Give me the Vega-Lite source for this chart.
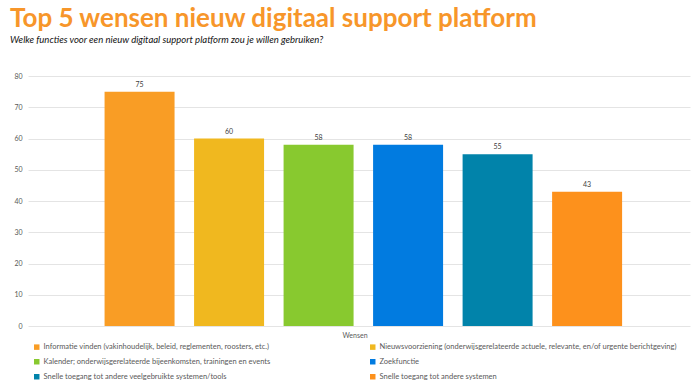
{
  "$schema": "https://vega.github.io/schema/vega-lite/v6.json",
  "width": 662,
  "height": 250,
  "autosize": {"type": "none"},
  "padding": {"left": 28, "top": 76, "right": 10, "bottom": 65},
  "background": "white",
  "config": {"view": {"stroke": null}, "font": "Lato"},
  "title": {
    "text": "Top 5 wensen nieuw digitaal support platform",
    "subtitle": "Welke functies voor een nieuw digitaal support platform zou je willen gebruiken?",
    "anchor": "start",
    "frame": "group",
    "dx": -18,
    "offset": 28,
    "font": "Lato",
    "fontSize": 26,
    "fontWeight": "bold",
    "color": "#F7962A",
    "subtitleFont": "Lato",
    "subtitleFontSize": 9.5,
    "subtitleFontStyle": "italic",
    "subtitleColor": "#111111",
    "subtitlePadding": 3
  },
  "data": {
    "values": [
      {"wens": "Informatie vinden (vakinhoudelijk, beleid, reglementen, roosters, etc.)", "aantal": 75},
      {"wens": "Nieuwsvoorziening (onderwijsgerelateerde actuele, relevante, en/of urgente berichtgeving)", "aantal": 60},
      {"wens": "Kalender; onderwijsgerelateerde bijeenkomsten, trainingen en events", "aantal": 58},
      {"wens": "Zoekfunctie", "aantal": 58},
      {"wens": "Snelle toegang tot andere veelgebruikte systemen/tools", "aantal": 55},
      {"wens": "Snelle toegang tot andere systemen", "aantal": 43}
    ]
  },
  "encoding": {
    "x": {
      "field": "wens",
      "type": "nominal",
      "sort": null,
      "scale": {"paddingInner": 0.218, "paddingOuter": 0.807, "align": 0.53},
      "axis": null
    },
    "y": {
      "field": "aantal",
      "type": "quantitative",
      "scale": {"domain": [0, 80]},
      "axis": {
        "title": null,
        "values": [0, 10, 20, 30, 40, 50, 60, 70, 80],
        "domain": false,
        "ticks": false,
        "labelPadding": 6,
        "labelFontSize": 7,
        "labelColor": "#595959",
        "gridColor": "#e4e4e4",
        "gridWidth": 1
      }
    }
  },
  "layer": [
    {
      "mark": {"type": "bar"},
      "encoding": {
        "color": {
          "field": "wens",
          "type": "nominal",
          "sort": null,
          "scale": {
            "domain": [
              "Informatie vinden (vakinhoudelijk, beleid, reglementen, roosters, etc.)",
              "Nieuwsvoorziening (onderwijsgerelateerde actuele, relevante, en/of urgente berichtgeving)",
              "Kalender; onderwijsgerelateerde bijeenkomsten, trainingen en events",
              "Zoekfunctie",
              "Snelle toegang tot andere veelgebruikte systemen/tools",
              "Snelle toegang tot andere systemen"
            ],
            "range": ["#F99D25", "#F0B81F", "#88C92F", "#017BE0", "#0183AA", "#FD911C"]
          },
          "legend": {
            "title": "Wensen",
            "orient": "none",
            "legendX": 5,
            "legendY": 256,
            "direction": "horizontal",
            "columns": 2,
            "columnPadding": 98,
            "rowPadding": 6,
            "symbolType": "square",
            "symbolSize": 30,
            "symbolStrokeWidth": 0,
            "labelFontSize": 7.5,
            "labelColor": "#595959",
            "labelLimit": 400,
            "labelOffset": 3,
            "titleFontSize": 7,
            "titleFontWeight": "normal",
            "titleColor": "#595959",
            "titleAnchor": "middle",
            "titlePadding": 4
          }
        }
      }
    },
    {
      "mark": {"type": "text", "dy": -7, "fontSize": 7, "color": "#404040"},
      "encoding": {"text": {"field": "aantal", "type": "quantitative"}}
    }
  ]
}
